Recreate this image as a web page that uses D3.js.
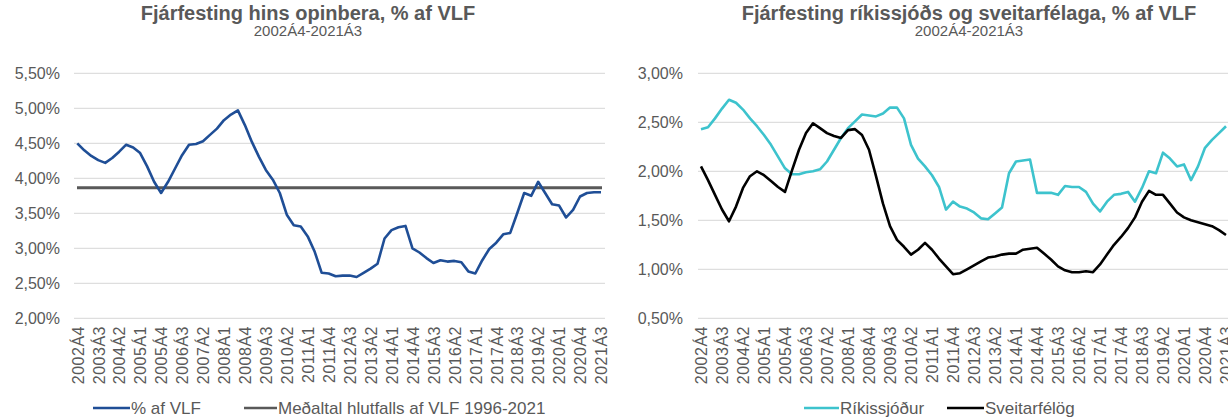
<!DOCTYPE html>
<html><head><meta charset="utf-8">
<script src="https://cdn.jsdelivr.net/npm/d3@7"></script>
<style>
body{margin:0;background:#fff;}
svg{display:block;font-family:Arial,"Liberation Sans",sans-serif;}
</style></head><body>
<svg id="c" width="1228" height="419"></svg>
<script>
const categories = ["2002Á4",
"2003Á1","2003Á2","2003Á3","2003Á4","2004Á1","2004Á2","2004Á3","2004Á4",
"2005Á1","2005Á2","2005Á3","2005Á4","2006Á1","2006Á2","2006Á3","2006Á4",
"2007Á1","2007Á2","2007Á3","2007Á4","2008Á1","2008Á2","2008Á3","2008Á4",
"2009Á1","2009Á2","2009Á3","2009Á4","2010Á1","2010Á2","2010Á3","2010Á4",
"2011Á1","2011Á2","2011Á3","2011Á4","2012Á1","2012Á2","2012Á3","2012Á4",
"2013Á1","2013Á2","2013Á3","2013Á4","2014Á1","2014Á2","2014Á3","2014Á4",
"2015Á1","2015Á2","2015Á3","2015Á4","2016Á1","2016Á2","2016Á3","2016Á4",
"2017Á1","2017Á2","2017Á3","2017Á4","2018Á1","2018Á2","2018Á3","2018Á4",
"2019Á1","2019Á2","2019Á3","2019Á4","2020Á1","2020Á2","2020Á3","2020Á4",
"2021Á1","2021Á2","2021Á3"];
const tickLabels = ["2002Á4","2003Á3","2004Á2","2005Á1","2005Á4","2006Á3","2007Á2","2008Á1",
"2008Á4","2009Á3","2010Á2","2011Á1","2011Á4","2012Á3","2013Á2","2014Á1","2014Á4","2015Á3",
"2016Á2","2017Á1","2017Á4","2018Á3","2019Á2","2020Á1","2020Á4","2021Á3"];
// Left: public investment % of GDP
const opinbera = [4.50,4.40,4.32,4.26,4.22,4.29,4.38,4.48,4.44,4.36,4.17,3.95,3.79,3.95,4.14,4.33,
4.48,4.49,4.53,4.62,4.71,4.83,4.91,4.97,4.76,4.52,4.31,4.12,3.98,3.79,3.48,3.33,3.31,3.17,2.95,
2.65,2.64,2.60,2.61,2.61,2.59,2.65,2.71,2.78,3.14,3.26,3.30,3.32,3.00,2.94,2.86,2.79,2.83,2.81,
2.82,2.80,2.67,2.64,2.83,2.99,3.08,3.20,3.22,3.50,3.79,3.75,3.95,3.79,3.63,3.61,3.44,3.55,3.74,
3.79,3.80,3.80];
const medaltal = 3.866;
// Right: state treasury and municipalities
const rikissjodur = [2.43,2.45,2.54,2.64,2.73,2.70,2.63,2.54,2.46,2.37,2.27,2.15,2.03,1.97,1.97,
1.99,2.00,2.02,2.10,2.22,2.34,2.44,2.51,2.58,2.57,2.56,2.59,2.65,2.65,2.54,2.27,2.13,2.05,1.96,
1.84,1.61,1.69,1.64,1.62,1.58,1.52,1.51,1.57,1.63,1.98,2.10,2.11,2.12,1.78,1.78,1.78,1.76,1.85,
1.84,1.84,1.79,1.67,1.59,1.69,1.76,1.77,1.79,1.69,1.83,2.00,1.98,2.19,2.13,2.05,2.07,1.91,2.05,
2.24,2.32,2.39,2.46];
const sveitarfelog = [2.05,1.91,1.76,1.61,1.49,1.64,1.83,1.95,2.00,1.96,1.90,1.84,1.79,2.01,2.22,
2.39,2.49,2.44,2.39,2.36,2.34,2.42,2.43,2.37,2.22,1.95,1.67,1.44,1.30,1.23,1.15,1.20,1.27,1.20,
1.11,1.03,0.95,0.96,1.00,1.04,1.08,1.12,1.13,1.15,1.16,1.16,1.20,1.21,1.22,1.16,1.10,1.03,0.99,
0.97,0.97,0.98,0.97,1.05,1.15,1.25,1.33,1.42,1.53,1.69,1.80,1.76,1.76,1.67,1.58,1.53,1.50,1.48,
1.46,1.44,1.40,1.35];
const leftTicks = [2.0,2.5,3.0,3.5,4.0,4.5,5.0,5.5];
const rightTicks = [0.5,1.0,1.5,2.0,2.5,3.0];

const svg = d3.select("#c");
const fmt = v => d3.format(".2f")(v).replace(".", ",") + "%";
const txt = "#595959";

function panel(o){
  const g = svg.append("g");
  const x = d3.scalePoint().domain(categories).range(o.xr);
  const y = d3.scaleLinear().domain(o.yd).range([318.3, 73.3]);
  g.selectAll(".grid").data(o.ticks).join("line")
    .attr("x1", o.gx[0]).attr("x2", o.gx[1])
    .attr("y1", d=>y(d)).attr("y2", d=>y(d))
    .attr("stroke", "#dedede").attr("stroke-width", 1.3);
  const ya = d3.axisLeft(y).tickValues(o.ticks).tickFormat(fmt).tickSize(0).tickPadding(0);
  const yg = g.append("g").attr("transform", `translate(${o.ylx},0)`).call(ya);
  yg.select(".domain").remove();
  yg.selectAll("text").attr("fill", txt).style("font-size","16px").attr("dy","0.35em");
  const xa = d3.axisBottom(x).tickValues(tickLabels).tickSize(0).tickPadding(0);
  const xg = g.append("g").attr("transform", `translate(0,326)`).call(xa);
  xg.select(".domain").remove();
  xg.selectAll("text").attr("fill", txt).style("font-size","16px")
    .attr("transform","rotate(-90)").attr("text-anchor","end")
    .attr("x",0).attr("y",0).attr("dy","0.36em").style("letter-spacing","0.5px");
  g.append("text").attr("x", o.tx).attr("y", 20).attr("text-anchor","middle")
    .attr("fill", txt).style("font-size","20px").style("font-weight","bold").text(o.title);
  g.append("text").attr("x", o.tx).attr("y", 36).attr("text-anchor","middle")
    .attr("fill", txt).style("font-size","15px").text("2002Á4-2021Á3");
  return {g, x, y};
}

const L = panel({xr:[77.3,601], yd:[2,5.5], ticks:leftTicks, gx:[74,605], ylx:60, tx:308,
  title:"Fjárfesting hins opinbera, % af VLF"});
L.g.append("line").attr("x1", 77).attr("x2", 602).attr("y1", L.y(medaltal)).attr("y2", L.y(medaltal))
  .attr("stroke","#595959").attr("stroke-width",3);
L.g.append("path").datum(opinbera)
  .attr("d", d3.line().x((d,i)=>L.x(categories[i])).y(d=>L.y(d)))
  .attr("fill","none").attr("stroke","#1f4e96").attr("stroke-width",2.6).attr("stroke-linejoin","round");

const R = panel({xr:[701,1226], yd:[0.5,3], ticks:rightTicks, gx:[698,1228], ylx:683, tx:969,
  title:"Fjárfesting ríkissjóðs og sveitarfélaga, % af VLF"});
R.g.append("path").datum(rikissjodur)
  .attr("d", d3.line().x((d,i)=>R.x(categories[i])).y(d=>R.y(d)))
  .attr("fill","none").attr("stroke","#3dc3cd").attr("stroke-width",2.6).attr("stroke-linejoin","round");
R.g.append("path").datum(sveitarfelog)
  .attr("d", d3.line().x((d,i)=>R.x(categories[i])).y(d=>R.y(d)))
  .attr("fill","none").attr("stroke","#000").attr("stroke-width",2.6).attr("stroke-linejoin","round");

function legend(items){
  items.forEach(it=>{
    svg.append("line").attr("x1",it.x1).attr("x2",it.x2).attr("y1",408).attr("y2",408)
      .attr("stroke",it.c).attr("stroke-width",it.w);
    svg.append("text").attr("x",it.x2+1).attr("y",414).attr("fill",txt)
      .style("font-size","17px").text(it.t);
  });
}
legend([{x1:93,x2:130,c:"#1f4e96",w:2.6,t:"% af VLF"},
  {x1:244,x2:277,c:"#595959",w:2.6,t:"Meðaltal hlutfalls af VLF 1996-2021"},
  {x1:804,x2:839,c:"#3dc3cd",w:2.6,t:"Ríkissjóður"},
  {x1:947,x2:984,c:"#000",w:2.6,t:"Sveitarfélög"}]);
</script></body></html>
